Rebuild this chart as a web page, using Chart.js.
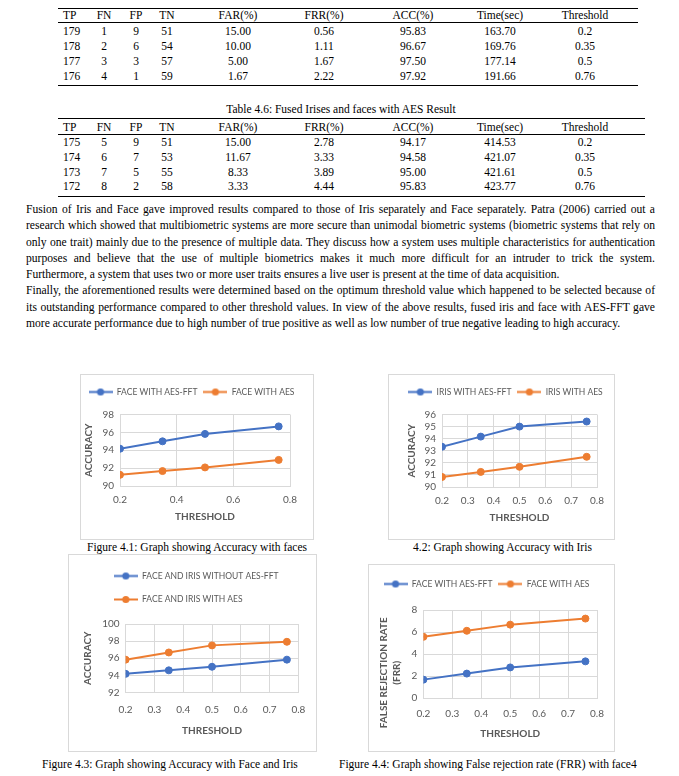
<!DOCTYPE html>
<html>
<head>
<meta charset="utf-8">
<script src="https://cdn.jsdelivr.net/npm/chart.js@4.4.1/dist/chart.umd.min.js"></script>
<style>
  body { margin: 0; width: 679px; height: 776px; position: relative; overflow: hidden; background: #fff;
         font-family: "Liberation Serif", "Times New Roman", serif; color: #000; }
  .rule { position: absolute; height: 0; border-top: 1px solid #000; }
  .cell { position: absolute; font-size: 11.5px; line-height: 14px; white-space: nowrap; }
  .mid { transform: translateX(-50%); }
  .para { position: absolute; left: 26px; width: 629px; font-size: 11.6px; line-height: 16.3px; }
  .para div { white-space: nowrap; text-align: justify; text-align-last: justify; }
  .para div.last { text-align: left; text-align-last: left; }
  .caption { position: absolute; font-size: 11.5px; line-height: 14px; white-space: nowrap; }
  .frame { position: absolute; background: #fff; box-shadow: inset 0 0 0 1px #d9d9d9; }
  .frame canvas { position: absolute; left: 0; top: 0; }
</style>
</head>
<body>
<div id="page"></div>

<div class="para" style="top:202px">
  <div>Fusion of Iris and Face gave improved results compared to those of Iris separately and Face separately. Patra (2006) carried out a</div>
  <div>research which showed that multibiometric systems are more secure than unimodal biometric systems (biometric systems that rely on</div>
  <div>only one trait) mainly due to the presence of multiple data. They discuss how a system uses multiple characteristics for authentication</div>
  <div>purposes and believe that the use of multiple biometrics makes it much more difficult for an intruder to trick the system.</div>
  <div class="last">Furthermore, a system that uses two or more user traits ensures a live user is present at the time of data acquisition.</div>
  <div>Finally, the aforementioned results were determined based on the optimum threshold value which happened to be selected because of</div>
  <div>its outstanding performance compared to other threshold values. In view of the above results, fused iris and face with AES-FFT gave</div>
  <div class="last">more accurate performance due to high number of true positive as well as low number of true negative leading to high accuracy.</div>
</div>

<div class="frame" style="left:80px;top:374px;width:234px;height:166px"><canvas id="fig1" width="234" height="166"></canvas></div>
<div class="frame" style="left:388px;top:374px;width:227px;height:166px"><canvas id="fig2" width="227" height="166"></canvas></div>
<div class="frame" style="left:68px;top:554px;width:249px;height:198px"><canvas id="fig3" width="249" height="198"></canvas></div>
<div class="frame" style="left:368px;top:564px;width:247px;height:188px"><canvas id="fig4" width="247" height="188"></canvas></div>

<div class="caption" style="left:87px;top:540px">Figure 4.1: Graph showing Accuracy with faces</div>
<div class="caption" style="left:413px;top:540px">4.2: Graph showing Accuracy with Iris</div>
<div class="caption" style="left:42px;top:757px">Figure 4.3: Graph showing Accuracy with Face and Iris</div>
<div class="caption" style="left:339px;top:757px">Figure 4.4: Graph showing False rejection rate (FRR) with face4</div>

<script>
// table data
const tableHead = ["TP", "FN", "FP", "TN", "FAR(%)", "FRR(%)", "ACC(%)", "Time(sec)", "Threshold"];
const fusedFftRows = [
  ["179", "1", "9", "51", "15.00", "0.56", "95.83", "163.70", "0.2"],
  ["178", "2", "6", "54", "10.00", "1.11", "96.67", "169.76", "0.35"],
  ["177", "3", "3", "57", "5.00", "1.67", "97.50", "177.14", "0.5"],
  ["176", "4", "1", "59", "1.67", "2.22", "97.92", "191.66", "0.76"]
];
const fusedAesRows = [
  ["175", "5", "9", "51", "15.00", "2.78", "94.17", "414.53", "0.2"],
  ["174", "6", "7", "53", "11.67", "3.33", "94.58", "421.07", "0.35"],
  ["173", "7", "5", "55", "8.33", "3.89", "95.00", "421.61", "0.5"],
  ["172", "8", "2", "58", "3.33", "4.44", "95.83", "423.77", "0.76"]
];
const tableCaption = "Table 4.6: Fused Irises and faces with AES Result";

// chart data
const thresholds = [0.2, 0.35, 0.5, 0.76];
const faceFftAcc = [94.17, 95.0, 95.83, 96.67];
const faceAesAcc = [91.25, 91.67, 92.08, 92.92];
const irisFftAcc = [93.33, 94.17, 95.0, 95.42];
const irisAesAcc = [90.83, 91.25, 91.67, 92.5];
const fusedNoFftAcc = [94.17, 94.58, 95.0, 95.83];
const fusedAesAcc = [95.83, 96.67, 97.5, 97.92];
const faceFftFrr = [1.67, 2.22, 2.78, 3.33];
const faceAesFrr = [5.56, 6.11, 6.67, 7.22];

const colors = ["#4472C4", "#ED7D31"];
const colX = [63, 104, 136, 167, 238, 324, 413, 500, 585];

const page = document.getElementById("page");

function rule(x1, x2, y) {
  const d = document.createElement("div");
  d.className = "rule";
  d.style.left = x1 + "px";
  d.style.width = (x2 - x1) + "px";
  d.style.top = y + "px";
  page.appendChild(d);
}

function textAt(txt, x, y, centered) {
  const d = document.createElement("div");
  d.className = centered ? "cell mid" : "cell";
  d.style.left = x + "px";
  d.style.top = (y - 7) + "px";
  d.textContent = txt;
  page.appendChild(d);
}

function table(rows, lines, headY, rowY, right) {
  lines.forEach(y => rule(58, right, y));
  tableHead.forEach((h, c) => textAt(h, colX[c], headY, c > 0));
  rows.forEach((r, i) => r.forEach((v, c) => textAt(v, colX[c], rowY[i], c > 0)));
}

table(fusedFftRows, [8, 22, 85], 15, [31, 46, 61, 76], 638);
textAt(tableCaption, 341, 109, true);
table(fusedAesRows, [118, 134, 196], 127, [142, 157, 172, 186], 645);

// legend marker: line with a dot, like the office chart legend
function marker(color) {
  const c = document.createElement("canvas");
  c.width = 24; c.height = 9;
  const x = c.getContext("2d");
  x.strokeStyle = color; x.lineWidth = 2;
  x.beginPath(); x.moveTo(0, 4.5); x.lineTo(24, 4.5); x.stroke();
  x.fillStyle = color;
  x.beginPath(); x.arc(12, 4.5, 3.6, 0, Math.PI * 2); x.fill();
  return c;
}
const markers = colors.map(marker);

Chart.defaults.font.family = "Lato";

function lineChart(id, g, names, series, yScale, xStep, yTitle) {
  return new Chart(document.getElementById(id), {
    type: "line",
    data: {
      datasets: series.map((vals, i) => ({
        label: names[i],
        data: thresholds.map((t, k) => ({ x: t, y: vals[k] })),
        borderColor: colors[i],
        backgroundColor: colors[i],
        pointBackgroundColor: colors[i],
        pointBorderColor: colors[i],
        borderWidth: 2,
        pointRadius: 3.5,
        pointBorderWidth: 1,
        tension: 0
      }))
    },
    options: {
      responsive: false,
      animation: false,
      devicePixelRatio: 1,
      layout: { padding: { left: g.padL, right: g.padR, top: g.padT, bottom: g.padB } },
      plugins: {
        legend: {
          position: "top",
          align: g.align || "center",
          labels: {
            usePointStyle: true,
            pointStyleWidth: 24,
            padding: g.gap,
            color: "#595959",
            font: { size: 8.5 },
            generateLabels(chart) {
              const items = Chart.defaults.plugins.legend.labels.generateLabels(chart);
              items.forEach((it, i) => { it.pointStyle = markers[i]; });
              return items;
            }
          }
        },
        // empty spacers: below the legend and right of the plot
        subtitle: { display: true, text: "", weight: 500, padding: { top: 0, bottom: g.spacer }, font: { size: 10, lineHeight: 0 } },
        title: { display: g.rightGap > 0, text: "", position: "right", fullSize: false, padding: { top: 0, bottom: g.rightGap }, font: { size: 10, lineHeight: 0 } },
        tooltip: { enabled: false }
      },
      scales: {
        x: {
          type: "linear", min: 0.2, max: 0.8,
          ticks: { stepSize: xStep, autoSkip: false, padding: g.xTickPad, color: "#595959", font: { size: 10 }, callback: v => v.toFixed(1) },
          grid: { color: "#d9d9d9", drawTicks: false },
          border: { color: "#d9d9d9" },
          title: { display: true, text: "THRESHOLD", color: "#595959", font: { size: 10, weight: "bold" }, padding: 0 },
          afterFit: s => { s.height = g.xH; }
        },
        y: {
          min: yScale[0], max: yScale[1],
          ticks: { stepSize: yScale[2], autoSkip: false, padding: 6, color: "#595959", font: { size: 10 } },
          grid: { color: "#d9d9d9", drawTicks: false },
          border: { color: "#d9d9d9" },
          title: { display: true, text: yTitle, color: "#595959", font: { size: 10, weight: "bold", lineHeight: g.titleLH || 1.2 }, padding: { top: g.yTitlePad, bottom: 0 } },
          afterFit: s => { s.width = g.yW; }
        }
      }
    }
  });
}

lineChart("fig1",
  { padL: 0, padR: 11, padT: 7.75, padB: 17, gap: 6, spacer: 8.25, rightGap: 13, yW: 40, xH: 37, xTickPad: 8, yTitlePad: 2.5 },
  ["FACE WITH AES-FFT", "FACE WITH AES"], [faceFftAcc, faceAesAcc], [90, 98, 2], 0.2, "ACCURACY");

lineChart("fig2",
  { padL: 13, padR: 5, padT: 7.75, padB: 16, gap: 6, spacer: 8.25, rightGap: 13, yW: 41, xH: 37, xTickPad: 8, yTitlePad: 5 },
  ["IRIS WITH AES-FFT", "IRIS WITH AES"], [irisFftAcc, irisAesAcc], [90, 96, 1], 0.1, "ACCURACY");

lineChart("fig3",
  { padL: 30.8, padR: 12, padT: 2.75, padB: 15, gap: 15, spacer: 10.25, rightGap: 0, yW: 26.8, xH: 44.6, xTickPad: 11.6, yTitlePad: -17.4, align: "start" },
  ["FACE AND IRIS WITHOUT AES-FFT", "FACE AND IRIS WITH AES"], [fusedNoFftAcc, fusedAesAcc], [92, 100, 2], 0.1, "ACCURACY");

lineChart("fig4",
  { padL: 5, padR: 15, padT: 9.75, padB: 12.5, gap: 6, spacer: 11.75, rightGap: 3, yW: 50.4, xH: 41.5, xTickPad: 9.7, yTitlePad: 3.85, titleLH: 1.35 },
  ["FACE WITH AES-FFT", "FACE WITH AES"], [faceFftFrr, faceAesFrr], [0, 8, 2], 0.1,
  ["FALSE REJECTION RATE\u2003\u2003\u2003\u2003\u2003", "(FRR)\u2003\u2003\u2003\u2003\u2003"]);
</script>
</body>
</html>
